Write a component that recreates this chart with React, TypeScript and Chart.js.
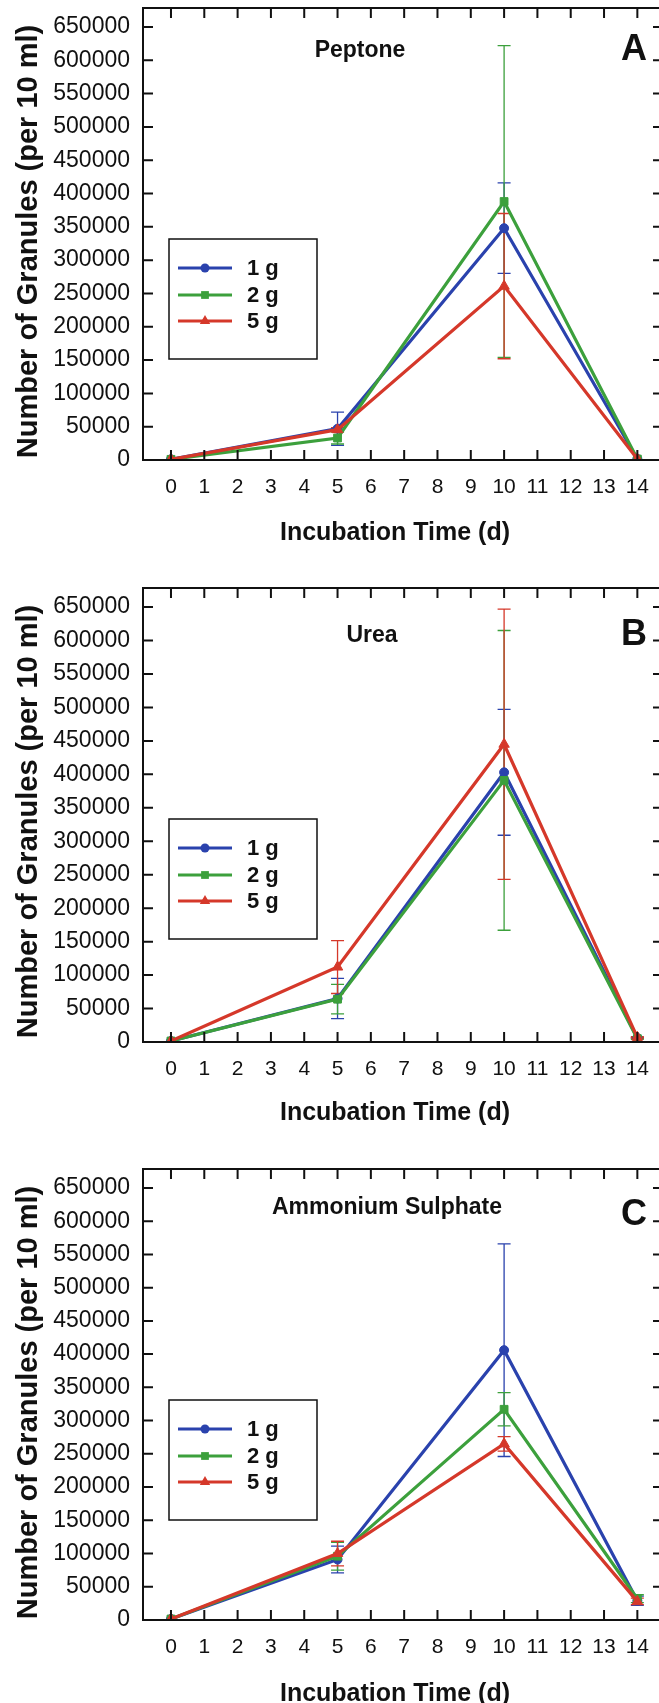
import React, { useEffect, useRef } from "react";
import { Chart, registerables } from "chart.js";

Chart.register(...registerables);

// ---------------- data ----------------
const days = [0, 5, 10, 14];
const xTickValues = [0, 1, 2, 3, 4, 5, 6, 7, 8, 9, 10, 11, 12, 13, 14];
const yTickValues = [
  0, 50000, 100000, 150000, 200000, 250000, 300000, 350000, 400000, 450000,
  500000, 550000, 600000, 650000,
];
const seriesLabels = ["1 g", "2 g", "5 g"];
const panelTitles = ["Peptone", "Urea", "Ammonium Sulphate"];
const panelLetters = ["A", "B", "C"];
const xAxisTitle = "Incubation Time (d)";
const yAxisTitle = "Number of Granules (per 10 ml)";

const peptone1g = [1000, 47000, 348000, 1500];
const peptone2g = [1000, 33000, 388000, 1500];
const peptone5g = [1000, 45500, 261000, 1500];
const peptone1gErr = [0, 25000, 68000, 0];
const peptone2gErr = [0, 9000, 234000, 0];
const peptone5gErr = [0, 3000, 109000, 0];

const urea1g = [1500, 65000, 403000, 6000];
const urea2g = [1500, 64000, 391000, 5000];
const urea5g = [1500, 112000, 445000, 7000];
const urea1gErr = [0, 30000, 94000, 1000];
const urea2gErr = [0, 22000, 224000, 1000];
const urea5gErr = [0, 39500, 202000, 1000];

const ammonium1g = [1500, 91000, 406000, 29000];
const ammonium2g = [1500, 96000, 317000, 32000];
const ammonium5g = [1500, 100000, 265000, 28000];
const ammonium1gErr = [0, 20000, 160000, 7000];
const ammonium2gErr = [0, 21000, 25000, 6000];
const ammonium5gErr = [0, 18500, 11000, 5000];

const panelSeries = [
  [peptone1g, peptone2g, peptone5g],
  [urea1g, urea2g, urea5g],
  [ammonium1g, ammonium2g, ammonium5g],
];
const panelErrors = [
  [peptone1gErr, peptone2gErr, peptone5gErr],
  [urea1gErr, urea2gErr, urea5gErr],
  [ammonium1gErr, ammonium2gErr, ammonium5gErr],
];

// ---------------- styling / layout ----------------
const seriesColors = ["#2a42ad", "#3ca03c", "#d5382a"];
const pointStyles = ["circle", "rect", "triangle"];
const pointRadii = [4.5, 5.5, 6];
const FONT = '"Liberation Sans", Arial, Helvetica, sans-serif';
const INK = "#111111";

const PAGE_W = 659;
const PAGE_H = 1703;
const CANVAS_W = 675;
const CANVAS_H = 580;
const PANEL_TOPS = [0, 580, 1161];
const AREA_TOP = 8;
const AREA_HEIGHTS = [452, 454, 451];
const AREA_LEFT = 143;
const AREA_RIGHT = 663;
const X_MIN = -0.84;
const X_MAX = 14.77;
const Y_MAX = 678500;
const TITLE_X = [360, 372, 387];
const TITLE_BASE = [49, 54, 45];
const LETTER_X = 634;
const LETTER_BASE = [52, 57, 56];
const X_TITLE_CX = 395;
const X_TITLE_BASE = 540;
const Y_TITLE_BASEX = 36.5;
const Y_TITLE_CY = 241.5;

function drawMarker(ctx: CanvasRenderingContext2D, style: string, x: number, y: number, r: number) {
  ctx.beginPath();
  if (style === "circle") {
    ctx.arc(x, y, r, 0, Math.PI * 2);
  } else if (style === "rect") {
    const s = r * Math.SQRT1_2;
    ctx.rect(x - s, y - s, 2 * s, 2 * s);
  } else {
    const h = r * Math.sin(Math.PI / 3);
    ctx.moveTo(x, y - r);
    ctx.lineTo(x + h, y + r / 2);
    ctx.lineTo(x - h, y + r / 2);
    ctx.closePath();
  }
  ctx.fill();
}

const decorPlugin = {
  id: "decor",
  beforeDatasetsDraw(chart: any) {
    const ctx = chart.ctx as CanvasRenderingContext2D;
    const xs = chart.scales.x;
    const ys = chart.scales.y;
    const { left, right, top, bottom } = chart.chartArea;
    ctx.save();
    ctx.beginPath();
    ctx.rect(left, top, right - left, bottom - top);
    ctx.clip();
    chart.data.datasets.forEach((ds: any) => {
      const errs: number[] = ds.errors || [];
      ctx.strokeStyle = ds.borderColor;
      ctx.lineWidth = 1.3;
      ds.data.forEach((p: any, i: number) => {
        const e = errs[i];
        if (!e) return;
        const px = xs.getPixelForValue(p.x);
        const pt = ys.getPixelForValue(p.y + e);
        const pb = ys.getPixelForValue(p.y - e);
        ctx.beginPath();
        ctx.moveTo(px, pt);
        ctx.lineTo(px, pb);
        ctx.moveTo(px - 6.5, pt);
        ctx.lineTo(px + 6.5, pt);
        ctx.moveTo(px - 6.5, pb);
        ctx.lineTo(px + 6.5, pb);
        ctx.stroke();
      });
    });
    ctx.restore();
  },
  afterDraw(chart: any, _args: any, opts: any) {
    const ctx = chart.ctx as CanvasRenderingContext2D;
    const xs = chart.scales.x;
    const ys = chart.scales.y;
    const { left, right, top, bottom } = chart.chartArea;
    const p = opts.panel as number;
    ctx.save();
    // frame
    ctx.strokeStyle = INK;
    ctx.lineWidth = 2;
    ctx.beginPath();
    ctx.rect(left, top, right - left, bottom - top);
    ctx.stroke();
    // inward ticks
    ctx.beginPath();
    xTickValues.forEach((v) => {
      const px = xs.getPixelForValue(v);
      ctx.moveTo(px, top);
      ctx.lineTo(px, top + 10);
      ctx.moveTo(px, bottom);
      ctx.lineTo(px, bottom - 10);
    });
    yTickValues.forEach((v) => {
      const py = ys.getPixelForValue(v);
      ctx.moveTo(left, py);
      ctx.lineTo(left + 10, py);
      ctx.moveTo(right, py);
      ctx.lineTo(right - 10, py);
    });
    ctx.stroke();
    // axis titles
    ctx.fillStyle = INK;
    ctx.textAlign = "center";
    ctx.textBaseline = "alphabetic";
    ctx.font = `bold 25px ${FONT}`;
    ctx.fillText(xAxisTitle, X_TITLE_CX, X_TITLE_BASE);
    ctx.save();
    ctx.translate(Y_TITLE_BASEX, Y_TITLE_CY);
    ctx.rotate(-Math.PI / 2);
    ctx.font = `bold 29px ${FONT}`;
    ctx.fillText(yAxisTitle, 0, 0);
    ctx.restore();
    // panel title and letter
    ctx.font = `bold 23px ${FONT}`;
    ctx.fillText(panelTitles[p], TITLE_X[p], top + TITLE_BASE[p]);
    ctx.font = `bold 36px ${FONT}`;
    ctx.fillText(panelLetters[p], LETTER_X, top + LETTER_BASE[p]);
    // legend box
    const bx = 169;
    const bw = 148;
    const by = top + 231;
    const bh = 120;
    ctx.strokeStyle = INK;
    ctx.lineWidth = 1.5;
    ctx.strokeRect(bx, by, bw, bh);
    const rows = [29, 56, 82];
    chart.data.datasets.forEach((ds: any, s: number) => {
      const y = by + rows[s];
      ctx.strokeStyle = ds.borderColor;
      ctx.lineWidth = 3;
      ctx.beginPath();
      ctx.moveTo(178, y);
      ctx.lineTo(232, y);
      ctx.stroke();
      ctx.fillStyle = ds.borderColor;
      drawMarker(ctx, pointStyles[s], 205, y, pointRadii[s]);
      ctx.fillStyle = INK;
      ctx.font = `bold 22px ${FONT}`;
      ctx.textAlign = "left";
      ctx.textBaseline = "middle";
      ctx.fillText(ds.label, 247, y + 1);
    });
    ctx.restore();
  },
};

function buildConfig(p: number): any {
  return {
    type: "line",
    data: {
      datasets: seriesLabels.map((label, s) => ({
        label,
        data: days.map((d, i) => ({ x: d, y: panelSeries[p][s][i] })),
        errors: panelErrors[p][s],
        borderColor: seriesColors[s],
        backgroundColor: seriesColors[s],
        pointBackgroundColor: seriesColors[s],
        pointBorderColor: seriesColors[s],
        borderWidth: 3.2,
        pointStyle: pointStyles[s],
        pointRadius: pointRadii[s],
        pointBorderWidth: 1,
        tension: 0,
        order: 3 - s,
      })),
    },
    options: {
      responsive: false,
      maintainAspectRatio: false,
      devicePixelRatio: 1,
      animation: false,
      layout: {
        padding: { top: AREA_TOP, left: 0, right: CANVAS_W - AREA_RIGHT, bottom: 0 },
      },
      plugins: {
        legend: { display: false },
        tooltip: { enabled: false },
        decor: { panel: p },
      },
      scales: {
        x: {
          type: "linear",
          min: X_MIN,
          max: X_MAX,
          afterBuildTicks: (sc: any) => {
            sc.ticks = xTickValues.map((v) => ({ value: v }));
          },
          afterFit: (sc: any) => {
            sc.height = CANVAS_H - AREA_TOP - AREA_HEIGHTS[p];
            sc.paddingLeft = 0;
            sc.paddingRight = 0;
          },
          grid: { display: false, drawTicks: false },
          border: { display: false },
          ticks: {
            autoSkip: false,
            maxRotation: 0,
            color: INK,
            padding: 15,
            font: { size: 21, family: FONT },
            callback: (v: any) => String(v),
          },
          title: { display: false },
        },
        y: {
          type: "linear",
          min: 0,
          max: Y_MAX,
          afterBuildTicks: (sc: any) => {
            sc.ticks = yTickValues.map((v) => ({ value: v }));
          },
          afterFit: (sc: any) => {
            sc.width = AREA_LEFT;
            sc.paddingTop = 0;
            sc.paddingBottom = 0;
          },
          grid: { display: false, drawTicks: false },
          border: { display: false },
          ticks: {
            color: INK,
            padding: 13,
            font: { size: 23, family: FONT },
            callback: (v: any) => String(v),
          },
          title: { display: false },
        },
      },
    },
    plugins: [decorPlugin],
  };
}

function Panel({ index }: { index: number }) {
  const ref = useRef<HTMLCanvasElement | null>(null);
  useEffect(() => {
    if (!ref.current) return;
    const chart = new Chart(ref.current, buildConfig(index));
    return () => chart.destroy();
  }, [index]);
  return (
    <canvas
      ref={ref}
      width={CANVAS_W}
      height={CANVAS_H}
      style={{
        position: "absolute",
        left: 0,
        top: PANEL_TOPS[index],
        width: `${CANVAS_W}px`,
        height: `${CANVAS_H}px`,
      }}
    />
  );
}

export default function App() {
  return (
    <div
      style={{
        position: "absolute",
        left: 0,
        top: 0,
        width: PAGE_W,
        height: PAGE_H,
        overflow: "hidden",
        background: "#ffffff",
      }}
    >
      {[0, 1, 2].map((i) => (
        <Panel key={i} index={i} />
      ))}
    </div>
  );
}
